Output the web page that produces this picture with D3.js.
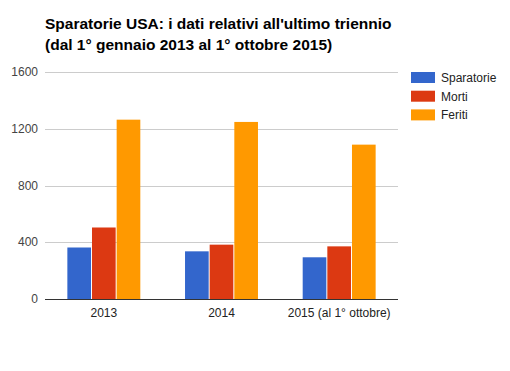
<!DOCTYPE html>
<html>
<head>
<meta charset="utf-8">
<script src="https://cdn.jsdelivr.net/npm/d3@7"></script>
<style>
	body { margin: 0; background: #fff; }
	text { font-family: Arial, "Liberation Sans", sans-serif; }
</style>
</head>
<body>
<div id="chart"></div>
<script>
'use strict';

// Chart values
var categories = ['2013', '2014', '2015 (al 1° ottobre)'];
var series_names = ['Sparatorie', 'Morti', 'Feriti'];
var sparatorie = [363, 336, 294];
var morti = [504, 383, 371];
var feriti = [1264, 1248, 1088];
var y_ticks = [0, 400, 800, 1200, 1600];
var title_lines = ['Sparatorie USA: i dati relativi all\'ultimo triennio', '(dal 1° gennaio 2013 al 1° ottobre 2015)'];

var colours = ['#3366cc', '#dc3912', '#ff9900'];

var width = 510, height = 371;
var plot = { left: 45, right: 398, top: 72, bottom: 299 };

var svg = d3.select('#chart').append('svg')
	.attr('width', width)
	.attr('height', height);

// Title
svg.selectAll('text.title')
	.data(title_lines)
	.enter().append('text')
	.attr('class', 'title')
	.attr('x', 45)
	.attr('y', function(d, i) { return 29 + i * 21; })
	.attr('font-size', '15.5px')
	.attr('font-weight', 'bold')
	.attr('fill', '#000')
	.text(function(d) { return d; });

var x_scale = d3.scaleBand()
	.domain(categories)
	.range([plot.left, plot.right])
	.paddingInner(0.38)
	.paddingOuter(0.19);

var x_inner = d3.scaleBand()
	.domain(series_names)
	.range([0, x_scale.bandwidth()])
	.paddingInner(0.04);

var y_scale = d3.scaleLinear()
	.domain([0, 1600])
	.range([plot.bottom, plot.top]);

// Gridlines
svg.selectAll('line.grid')
	.data(y_ticks.filter(function(d) { return d > 0; }))
	.enter().append('line')
	.attr('class', 'grid')
	.attr('x1', plot.left)
	.attr('x2', plot.right)
	.attr('y1', function(d) { return Math.round(y_scale(d)) + 0.5; })
	.attr('y2', function(d) { return Math.round(y_scale(d)) + 0.5; })
	.attr('stroke', '#cccccc');

// Y labels
svg.selectAll('text.ylab')
	.data(y_ticks)
	.enter().append('text')
	.attr('class', 'ylab')
	.attr('x', 38)
	.attr('y', function(d) { return y_scale(d) + 4; })
	.attr('text-anchor', 'end')
	.attr('font-size', '12px')
	.attr('fill', '#444')
	.text(function(d) { return d; });

// Bars
var rows = categories.map(function(c, i) {
	return { cat: c, values: [sparatorie[i], morti[i], feriti[i]] };
});

var groups = svg.selectAll('g.group')
	.data(rows)
	.enter().append('g')
	.attr('class', 'group')
	.attr('transform', function(d) { return 'translate(' + x_scale(d.cat) + ',0)'; });

groups.selectAll('rect')
	.data(function(d) { return d.values.map(function(v, j) { return { name: series_names[j], value: v, j: j }; }); })
	.enter().append('rect')
	.attr('x', function(d) { return x_inner(d.name); })
	.attr('y', function(d) { return y_scale(d.value); })
	.attr('width', x_inner.bandwidth())
	.attr('height', function(d) { return y_scale(0) - y_scale(d.value); })
	.attr('fill', function(d) { return colours[d.j]; });

// Baseline
svg.append('line')
	.attr('x1', plot.left)
	.attr('x2', plot.right)
	.attr('y1', Math.round(y_scale(0)) + 0.5)
	.attr('y2', Math.round(y_scale(0)) + 0.5)
	.attr('stroke', '#333');

// X labels
svg.selectAll('text.xlab')
	.data(categories)
	.enter().append('text')
	.attr('class', 'xlab')
	.attr('x', function(d) { return x_scale(d) + x_scale.bandwidth() / 2; })
	.attr('y', 317)
	.attr('text-anchor', 'middle')
	.attr('font-size', '12px')
	.attr('fill', '#222')
	.text(function(d) { return d; });

// Legend
var legend = svg.selectAll('g.legend')
	.data(series_names)
	.enter().append('g')
	.attr('class', 'legend')
	.attr('transform', function(d, i) { return 'translate(411,' + (72 + i * 18.7) + ')'; });

legend.append('rect')
	.attr('width', 24)
	.attr('height', 11)
	.attr('fill', function(d, i) { return colours[i]; });

legend.append('text')
	.attr('x', 30)
	.attr('y', 10)
	.attr('font-size', '12px')
	.attr('fill', '#222')
	.text(function(d) { return d; });
</script>
</body>
</html>
